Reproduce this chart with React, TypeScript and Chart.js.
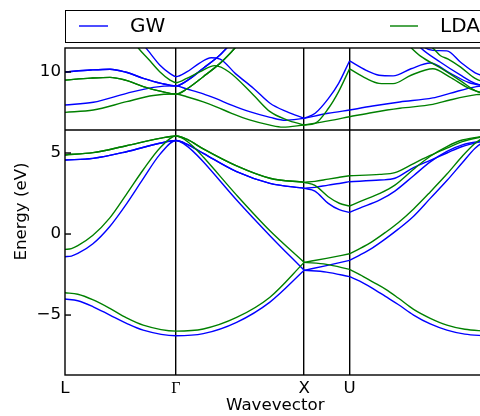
import React, { useEffect, useRef } from 'react';
import { Chart, registerables } from 'chart.js';

Chart.register(...registerables);

type Pt = [number, number];

// k-path: L - Γ - X - U|K - Γ
const K_TICKS = [0, 0.866, 1.866, 2.22, 3.281];
const K_LABELS = ['L', 'Γ', 'X', 'U', 'Γ'];
const Y_TICKS = [-5, 0, 5, 10];
const Y_MIN = -8.7;
const Y_MAX = 11.48;
const GAP_LINE = 6.42;
const SERIES = ['GW', 'LDA'];
const COLORS = ['#0000ff', '#008000'];

// ---- GW bands (eV) ----
const GW_B1: Pt[] = [[0,-4.01],[0.1,-4.12],[0.22,-4.49],[0.35,-5.0],[0.48,-5.51],[0.61,-5.93],[0.866,-6.28],[1.079,-6.15],[1.339,-5.45],[1.599,-4.2],[1.866,-2.24],[2.04,-2.35],[2.22,-2.63],[2.30,-2.9],[2.40,-3.35],[2.50,-3.85],[2.60,-4.35],[2.72,-5.0],[2.85,-5.55],[2.98,-5.93],[3.12,-6.18],[3.281,-6.28]];
const GW_B2: Pt[] = [[0,-1.4],[0.05,-1.36],[0.1,-1.2],[0.218,-0.6],[0.348,0.45],[0.479,1.85],[0.609,3.4],[0.739,4.9],[0.866,5.77],[0.93,5.55],[1.0,5.1],[1.079,4.46],[1.339,2.1],[1.599,-0.1],[1.866,-2.24],[2.04,-1.95],[2.22,-1.63],[2.30,-1.3],[2.40,-0.85],[2.50,-0.3],[2.60,0.3],[2.72,1.1],[2.85,2.2],[2.98,3.3],[3.10,4.4],[3.20,5.3],[3.281,5.77]];
const GW_B3: Pt[] = [[0,4.57],[0.218,4.67],[0.479,5.08],[0.739,5.6],[0.866,5.77],[0.95,5.55],[1.079,4.98],[1.339,3.85],[1.599,3.13],[1.866,2.82],[1.95,2.65],[2.054,1.89],[2.14,1.5],[2.22,1.34],[2.30,1.6],[2.457,2.1],[2.574,2.65],[2.72,3.6],[2.85,4.45],[2.98,5.1],[3.10,5.5],[3.281,5.77]];
const GW_B4: Pt[] = [[0,4.57],[0.218,4.67],[0.479,5.08],[0.739,5.6],[0.866,5.77],[0.95,5.55],[1.079,4.98],[1.339,3.85],[1.599,3.13],[1.866,2.82],[1.95,2.88],[2.054,3.02],[2.14,3.12],[2.22,3.23],[2.457,3.33],[2.574,3.44],[2.72,4.1],[2.85,4.55],[2.98,5.0],[3.10,5.4],[3.281,5.77]];
const GW_B5: Pt[] = [[0,7.96],[0.221,8.13],[0.481,8.68],[0.689,9.05],[0.866,9.14],[0.95,8.95],[1.079,8.65],[1.18,8.35],[1.30,7.95],[1.44,7.55],[1.6,7.2],[1.72,7.02],[1.866,7.14],[2.054,7.45],[2.22,7.65],[2.40,7.9],[2.613,8.15],[2.87,8.4],[3.003,8.68],[3.21,9.1],[3.281,9.14]];
const GW_B6: Pt[] = [[0,10.0],[0.2,10.12],[0.351,10.17],[0.47,10.0],[0.611,9.61],[0.75,9.3],[0.866,9.14],[0.95,9.45],[1.079,10.23],[1.209,11.05],[1.3,11.8],[1.4,12.6],[1.866,14],[2.22,14],[2.60,14],[2.72,12.0],[2.774,11.5],[2.93,10.6],[3.087,9.8],[3.2,9.3],[3.281,9.14]];
const GW_B7: Pt[] = [[0,10.0],[0.2,10.12],[0.351,10.17],[0.47,10.0],[0.611,9.61],[0.75,9.3],[0.866,9.14],[0.95,9.45],[1.079,10.23],[1.209,11.05],[1.3,11.8],[1.4,12.6],[1.866,14],[2.22,14],[2.60,14],[2.75,12.2],[2.82,11.45],[2.90,11.32],[2.98,11.3],[3.087,10.6],[3.2,9.95],[3.281,9.71]];
const GW_B8: Pt[] = [[0.55,12.3],[0.60,11.8],[0.65,11.3],[0.739,10.43],[0.82,9.9],[0.866,9.71],[0.95,10.0],[1.05,10.55],[1.14,10.88],[1.21,10.8],[1.33,9.9],[1.47,9.0],[1.6,8.07],[1.73,7.55],[1.866,7.14],[1.952,7.45],[2.056,8.37],[2.135,9.3],[2.22,10.68],[2.35,10.1],[2.45,9.8],[2.56,9.76],[2.70,10.2],[2.85,10.55],[3.0,9.95],[3.15,9.35],[3.281,9.14]];

// ---- LDA bands (eV) ----
const LDA_B1: Pt[] = [[0,-3.62],[0.1,-3.72],[0.22,-4.07],[0.35,-4.59],[0.48,-5.17],[0.61,-5.62],[0.866,-5.99],[1.079,-5.86],[1.339,-5.15],[1.599,-3.9],[1.866,-1.75],[2.04,-1.87],[2.22,-2.18],[2.30,-2.5],[2.40,-2.95],[2.50,-3.4],[2.60,-3.95],[2.72,-4.65],[2.85,-5.2],[2.98,-5.62],[3.12,-5.88],[3.281,-5.99]];
const LDA_B2: Pt[] = [[0,-0.95],[0.05,-0.9],[0.1,-0.72],[0.218,-0.08],[0.348,0.98],[0.479,2.45],[0.609,3.95],[0.739,5.3],[0.866,6.05],[0.93,5.85],[1.0,5.4],[1.079,4.75],[1.339,2.4],[1.599,0.2],[1.866,-1.75],[2.04,-1.5],[2.22,-1.22],[2.30,-0.9],[2.40,-0.45],[2.50,0.1],[2.60,0.7],[2.72,1.55],[2.85,2.6],[2.98,3.7],[3.10,4.8],[3.20,5.6],[3.281,6.05]];
const LDA_B3: Pt[] = [[0,4.88],[0.218,5.02],[0.479,5.45],[0.739,5.9],[0.866,6.05],[0.95,5.85],[1.079,5.25],[1.339,4.2],[1.599,3.44],[1.866,3.19],[1.95,3.0],[2.054,2.3],[2.14,1.9],[2.22,1.73],[2.30,2.0],[2.457,2.51],[2.574,3.02],[2.72,4.0],[2.85,4.8],[2.98,5.4],[3.10,5.8],[3.281,6.05]];
const LDA_B4: Pt[] = [[0,4.88],[0.218,5.02],[0.479,5.45],[0.739,5.9],[0.866,6.05],[0.95,5.85],[1.079,5.25],[1.339,4.2],[1.599,3.44],[1.866,3.19],[1.95,3.25],[2.054,3.39],[2.14,3.5],[2.22,3.6],[2.457,3.68],[2.574,3.79],[2.72,4.35],[2.85,4.85],[2.98,5.3],[3.10,5.7],[3.281,6.05]];
const LDA_B5: Pt[] = [[0,7.51],[0.221,7.65],[0.481,8.17],[0.689,8.55],[0.866,8.64],[0.95,8.47],[1.079,8.15],[1.18,7.85],[1.30,7.45],[1.44,7.04],[1.6,6.72],[1.70,6.6],[1.866,6.73],[2.054,6.98],[2.22,7.24],[2.40,7.5],[2.613,7.76],[2.87,8.0],[3.003,8.27],[3.21,8.6],[3.281,8.64]];
const LDA_B6: Pt[] = [[0,9.5],[0.2,9.62],[0.351,9.67],[0.47,9.5],[0.611,9.1],[0.75,8.8],[0.866,8.64],[0.95,8.95],[1.079,9.71],[1.209,10.53],[1.3,11.25],[1.4,12.1],[1.866,14],[2.22,14],[2.55,14],[2.64,12.0],[2.70,11.5],[2.774,10.98],[2.93,10.25],[3.087,9.45],[3.2,8.85],[3.281,8.64]];
const LDA_B7: Pt[] = [[0,9.5],[0.2,9.62],[0.351,9.67],[0.47,9.5],[0.611,9.1],[0.75,8.8],[0.866,8.64],[0.95,8.95],[1.079,9.71],[1.209,10.53],[1.3,11.25],[1.4,12.1],[1.866,14],[2.22,14],[2.55,14],[2.80,12.0],[2.88,11.4],[2.93,11.0],[2.99,10.8],[3.087,10.3],[3.2,9.6],[3.281,9.34]];
const LDA_B8: Pt[] = [[0.50,12.3],[0.575,11.45],[0.65,10.8],[0.739,10.02],[0.82,9.5],[0.866,9.34],[0.95,9.6],[1.05,10.0],[1.17,10.39],[1.28,10.0],[1.47,8.58],[1.6,7.55],[1.73,7.05],[1.866,6.73],[1.952,6.83],[2.056,7.76],[2.135,8.79],[2.22,10.19],[2.35,9.6],[2.45,9.3],[2.56,9.28],[2.70,9.8],[2.87,10.2],[3.0,9.7],[3.15,9.0],[3.281,8.64]];

const GW_BANDS = [GW_B1, GW_B2, GW_B3, GW_B4, GW_B5, GW_B6, GW_B7, GW_B8];
const LDA_BANDS = [LDA_B1, LDA_B2, LDA_B3, LDA_B4, LDA_B5, LDA_B6, LDA_B7, LDA_B8];

// path points where bands are allowed to have a kink (X and U|K)
const KINKS = [K_TICKS[2], K_TICKS[3]];

const FONT = 'DejaVu Sans';
const LW = 1.4;

function splitAtKinks(band: Pt[]): Pt[][] {
  const edges = [-Infinity, ...KINKS, Infinity];
  const out: Pt[][] = [];
  for (let i = 0; i < edges.length - 1; i++) {
    const seg = band.filter(([k]) => k >= edges[i] - 1e-9 && k <= edges[i + 1] + 1e-9);
    if (seg.length > 1) out.push(seg);
  }
  return out;
}

const framePlugin = {
  id: 'frameAndLegend',
  afterDatasetsDraw(chart: any) {
    const { ctx, chartArea: a, scales } = chart;
    const y = scales.y;
    ctx.save();
    ctx.strokeStyle = '#000';
    ctx.lineWidth = LW;
    ctx.strokeRect(a.left, a.top, a.right - a.left, a.bottom - a.top);
    Y_TICKS.forEach((v) => {
      const py = y.getPixelForValue(v);
      ctx.beginPath();
      ctx.moveTo(a.left, py);
      ctx.lineTo(a.left + 6, py);
      ctx.stroke();
    });
    // legend
    ctx.lineWidth = 1;
    ctx.strokeRect(65.5, 10.5, 620, 32);
    const handles = [
      { x0: 79, x1: 108, tx: 130 },
      { x0: 390, x1: 418, tx: 440 },
    ];
    handles.forEach((h, i) => {
      ctx.strokeStyle = COLORS[i];
      ctx.lineWidth = LW;
      ctx.beginPath();
      ctx.moveTo(h.x0, 26);
      ctx.lineTo(h.x1, 26);
      ctx.stroke();
      ctx.fillStyle = '#000';
      ctx.font = `20px "${FONT}"`;
      ctx.textBaseline = 'middle';
      ctx.textAlign = 'left';
      ctx.fillText(SERIES[i], h.tx, 27);
    });
    ctx.restore();
  },
};

export default function App() {
  const ref = useRef<HTMLCanvasElement | null>(null);
  useEffect(() => {
    if (!ref.current) return;
    const mk = (seg: Pt[], i: number, order: number) => ({
      label: SERIES[i],
      data: seg.map(([x, y]) => ({ x, y })),
      borderColor: COLORS[i],
      backgroundColor: COLORS[i],
      borderWidth: LW,
      pointRadius: 0,
      cubicInterpolationMode: 'monotone' as const,
      fill: false,
      order,
    });
    const datasets: any[] = [
      ...GW_BANDS.flatMap((b) => splitAtKinks(b).map((s) => mk(s, 0, 2))),
      ...LDA_BANDS.flatMap((b) => splitAtKinks(b).map((s) => mk(s, 1, 1))),
      {
        label: 'gap',
        data: [{ x: K_TICKS[0], y: GAP_LINE }, { x: K_TICKS[K_TICKS.length - 1], y: GAP_LINE }],
        borderColor: '#000',
        borderWidth: LW,
        pointRadius: 0,
        tension: 0,
        order: 0,
      },
    ];
    const chart = new Chart(ref.current, {
      type: 'line',
      data: { datasets },
      plugins: [framePlugin],
      options: {
        animation: false,
        responsive: false,
        devicePixelRatio: 1,
        events: [],
        layout: { padding: { left: 0, right: 74.5, top: 48, bottom: 0 } },
        plugins: { legend: { display: false }, tooltip: { enabled: false } },
        scales: {
          x: {
            type: 'linear',
            min: K_TICKS[0],
            max: K_TICKS[K_TICKS.length - 1],
            afterBuildTicks: (s: any) => { s.ticks = K_TICKS.map((v) => ({ value: v })); },
            afterFit: (s: any) => { s.height = 41; },
            border: { display: false },
            grid: {
              drawTicks: false,
              lineWidth: LW,
              color: (c: any) => (c.index === 0 || c.index === K_TICKS.length - 1 ? 'rgba(0,0,0,0)' : '#000'),
            },
            ticks: {
              autoSkip: false,
              maxRotation: 0,
              padding: 4,
              color: '#000',
              font: (c: any) => (K_LABELS[c.index] === 'Γ'
                ? { family: 'Liberation Serif', size: 16 }
                : { family: FONT, size: 16.67 }),
              callback: (_v: any, i: number) => K_LABELS[i],
            },
            title: { display: true, text: 'Wavevector', color: '#000', font: { family: FONT, size: 16.67 }, padding: { top: 0, bottom: 0 } },
          },
          y: {
            type: 'linear',
            min: Y_MIN,
            max: Y_MAX,
            afterBuildTicks: (s: any) => { s.ticks = Y_TICKS.map((v) => ({ value: v })); },
            afterFit: (s: any) => { s.width = 65; },
            border: { display: false },
            grid: { display: false, drawTicks: false },
            ticks: {
              padding: 4,
              color: '#000',
              font: { family: FONT, size: 16.67 },
              callback: (v: any) => (Number(v) < 0 ? '\u2212' + Math.abs(Number(v)) : String(v)),
            },
            title: { display: true, text: 'Energy (eV)', color: '#000', font: { family: FONT, size: 16.67 }, padding: { top: 12, bottom: 0 } },
          },
        },
      } as any,
    });
    return () => chart.destroy();
  }, []);
  return (
    <div style={{ position: 'fixed', left: 0, top: 0, width: 480, height: 416, overflow: 'hidden', background: '#fff' }}>
      <canvas ref={ref} width={560} height={416} style={{ display: 'block' }} />
    </div>
  );
}
